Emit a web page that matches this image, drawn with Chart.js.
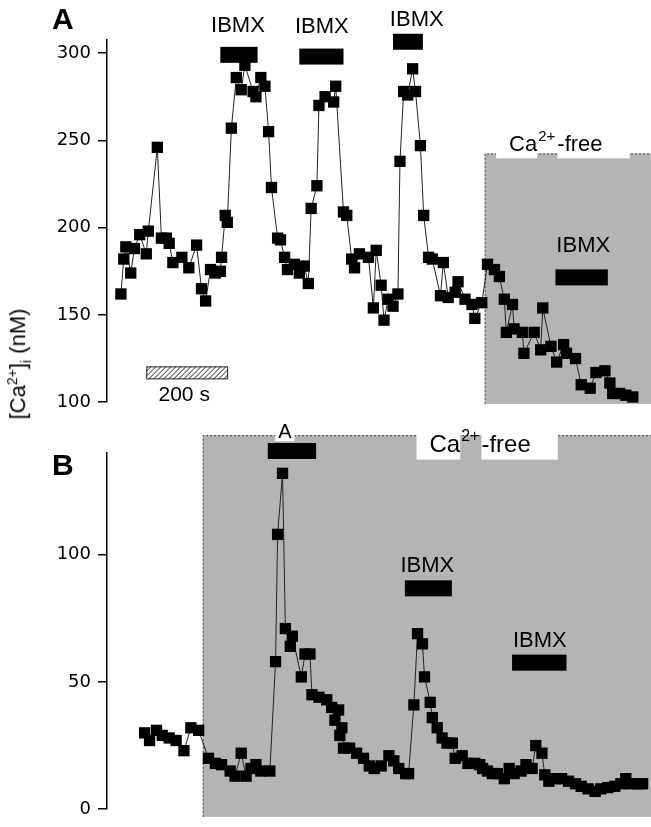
<!DOCTYPE html>
<html>
<head>
<meta charset="utf-8">
<script src="https://cdn.jsdelivr.net/npm/chart.js@4/dist/chart.umd.min.js"></script>
<style>
  body { margin: 0; background: #fff; width: 651px; height: 827px; position: relative; overflow: hidden; font-family: "Liberation Sans", Arial, sans-serif; }
  .box { position: absolute; left: 0; width: 651px; }
  #boxA { top: 0; height: 420px; }
  #boxB { top: 420px; height: 407px; }
  .panel { position: absolute; left: 52px; font: bold 30px "Liberation Sans", Arial, sans-serif; }
  .ylab { position: absolute; left: 19px; top: 364px; transform: translate(-50%, -50%) rotate(-90deg); font-size: 22px; white-space: nowrap; font-family: "Liberation Sans", Arial, sans-serif; }
  .ylab sup, .ylab sub { font-size: 14px; }
</style>
</head>
<body>
<div class="box" id="boxA"><canvas id="chartA" width="651" height="420"></canvas></div>
<div class="box" id="boxB"><canvas id="chartB" width="651" height="407"></canvas></div>
<div class="panel" style="top:2px">A</div>
<div class="panel" style="top:448px">B</div>
<div class="ylab">[Ca<sup>2+</sup>]<sub>i</sub> (nM)</div>
<script>
// panel A: time (s) and [Ca2+]i (nM)
const timeA = [34, 41, 46, 58, 67, 80, 96, 101, 123, 133, 145, 152, 161, 183, 200, 219, 231, 241, 253, 265, 277, 280, 289, 294,
  304, 316, 328, 337, 357, 364, 376, 386, 395, 402, 417, 424, 434, 441, 458, 470, 482, 492, 499, 513, 518, 533, 554, 559,
  578, 586, 598, 605, 617, 639, 651, 658, 670, 677, 687, 699, 711, 716, 725, 735, 747, 754, 766, 774, 786, 795, 815, 822,
  834, 851, 858, 875, 892, 899, 916, 930, 947, 959, 971, 976, 991, 995, 1015, 1019, 1044, 1060, 1065, 1085, 1099, 1116,
  1123, 1145, 1159, 1181, 1195, 1217, 1229, 1236, 1253, 1268, 1285];
const caA = [162, 182, 189, 174, 188, 196, 185, 198, 246, 194, 194, 191, 180, 183, 177, 190, 165, 158, 176, 174, 175, 183, 207, 203,
  257, 286, 279, 293, 278, 275, 286, 281, 255, 223, 194, 193, 183, 176, 179, 174, 178, 168, 211, 224, 270, 275, 272, 281,
  209, 207, 182, 177, 185, 183, 154, 187, 167, 147, 159, 155, 162, 238, 278, 276, 291, 278, 247, 207, 183, 182, 161, 180,
  160, 163, 169, 159, 156, 148, 157, 179, 176, 172, 159, 140, 156, 142, 140, 128, 140, 130, 154, 132, 123, 133,
  128, 125, 110, 108, 117, 118, 111, 105, 105, 104, 103];

// panel B
const timeB = [92, 104, 121, 135, 152, 169, 188, 205, 224, 248, 265, 280, 301, 313, 328, 340, 352, 364, 376, 398, 412, 417, 429,
  436, 448, 453, 475, 484, 496, 501, 518, 537, 549, 557, 566, 569, 574, 578, 593, 610, 627, 641, 653, 670, 689, 701, 713,
  730, 737, 750, 759, 771, 776, 790, 795, 807, 819, 831, 844, 851, 868, 882, 899, 911, 918, 930, 942, 954, 971, 983, 995,
  1012, 1024, 1039, 1048, 1063, 1070, 1080, 1097, 1111, 1128, 1145, 1159, 1176, 1193, 1207, 1224, 1241, 1256, 1268, 1280,
  1297, 1309];
const caB = [30, 27, 31, 29, 28, 27, 23, 32, 31, 20, 18, 17.5, 15, 13, 22, 13, 16, 17.5, 15, 15, 58, 108, 132,
  71, 64, 68, 52, 61, 61, 45, 44, 43, 40, 35, 39, 29, 32, 24, 24, 22, 20, 17, 16, 17, 21, 19, 16,
  14, 14, 41, 69, 65, 52, 42, 36, 32, 28, 26, 26, 20, 21, 18, 18, 17.5, 16, 15, 14, 14, 12, 16, 14,
  15, 17.5, 16, 25, 22, 13.5, 11, 12, 12, 11, 10, 9, 8, 7, 8, 8.5, 9, 10, 12, 10,
  10, 10];

const ticksA = [100, 150, 200, 250, 300];
const ticksB = [0, 50, 100];

// IBMX applications: start, end (s), bar level, label centre (s) and label level (nM)
const ibmxStartA = [277, 470, 699, 1096];
const ibmxEndA = [368, 578, 772, 1224];
const ibmxLevelA = [299, 298, 306.5, 171.5];
const ibmxLabelTA = [320, 525, 757, 1164];
const ibmxTextA = [312, 311.6, 315.6, 186];
const ibmxStartB = [728, 990];
const ibmxEndB = [843, 1123];
const ibmxLevelB = [86.8, 57.6];
const ibmxLabelTB = [783, 1058];
const ibmxTextB = [93.3, 63.9];
const agonistB = [393, 511, 140.8, 145.8];

// Ca2+-free period: start (s), top, bottom (nM); label centre (s), baseline, box bottom
const grayA = [923, 242.5, 99];
const grayB = [234, 147, -3];
const caFreeLabelA = [1097, 243.7, 239.7];
const caFreeLabelB = [912, 140.4, 137.4];
const scaleBar = [96, 296, 116.8];

const FONT = '"Liberation Sans", Arial, sans-serif';

function drawCaFree(ctx, cx, base, boxBottom, size) {
  const sup = Math.round(size * 0.68);
  ctx.font = size + 'px ' + FONT;
  const w1 = ctx.measureText('Ca').width;
  const w3 = ctx.measureText('-free').width;
  ctx.font = sup + 'px ' + FONT;
  const w2 = ctx.measureText('2+').width + 3;
  const x0 = cx - (w1 + w2 + w3) / 2;
  ctx.fillStyle = '#fff';
  ctx.fillRect(x0 - 13, base - 26, w1 + 13, boxBottom - base + 26);
  ctx.fillRect(x0 + w1 + w2, base - 26, w3 + 27, boxBottom - base + 26);
  ctx.fillStyle = '#000';
  ctx.textAlign = 'left';
  ctx.textBaseline = 'alphabetic';
  ctx.font = size + 'px ' + FONT;
  ctx.fillText('Ca', x0, base);
  ctx.fillText('-free', x0 + w1 + w2, base);
  ctx.font = sup + 'px ' + FONT;
  ctx.fillText('2+', x0 + w1 + 1, base - size * 0.45);
}

const decor = {
  id: 'decor',
  beforeDatasetsDraw(chart, args, o) {
    const ctx = chart.ctx, x = chart.scales.x, y = chart.scales.y;
    const gx = x.getPixelForValue(o.gray[0]);
    const gy = y.getPixelForValue(o.gray[1]);
    const gb = Math.min(chart.height, y.getPixelForValue(o.gray[2]));
    ctx.save();
    ctx.fillStyle = '#b4b4b4';
    ctx.fillRect(gx, gy, chart.width - gx, gb - gy);
    ctx.strokeStyle = '#444';
    ctx.lineWidth = 1;
    ctx.setLineDash([2, 2]);
    ctx.beginPath();
    ctx.moveTo(gx + 0.5, gb);
    ctx.lineTo(gx + 0.5, gy + 0.5);
    ctx.lineTo(chart.width, gy + 0.5);
    ctx.stroke();
    ctx.restore();
  },
  afterDatasetsDraw(chart, args, o) {
    const ctx = chart.ctx, x = chart.scales.x, y = chart.scales.y;
    ctx.save();
    drawCaFree(ctx, x.getPixelForValue(o.caFree[0]), y.getPixelForValue(o.caFree[1]), y.getPixelForValue(o.caFree[2]), o.caSize);
    // IBMX bars
    ctx.font = '22px ' + FONT;
    ctx.textAlign = 'center';
    ctx.textBaseline = 'alphabetic';
    for (let i = 0; i < o.start.length; i++) {
      const x1 = x.getPixelForValue(o.start[i]), x2 = x.getPixelForValue(o.end[i]);
      const yc = y.getPixelForValue(o.level[i]);
      ctx.fillStyle = '#000';
      ctx.fillRect(x1, yc - 8, x2 - x1, 16);
      ctx.fillText('IBMX', x.getPixelForValue(o.labelT[i]), y.getPixelForValue(o.text[i]));
    }
    if (o.agonist) {
      const a = o.agonist;
      const x1 = x.getPixelForValue(a[0]), x2 = x.getPixelForValue(a[1]);
      const yc = y.getPixelForValue(a[2]);
      const tb = y.getPixelForValue(a[3]);
      ctx.font = '20px ' + FONT;
      const cx = x1 + 17;
      const tw = ctx.measureText('A').width;
      ctx.fillStyle = '#fff';
      ctx.fillRect(cx - tw / 2 - 3, tb - 18, tw + 6, 21);
      ctx.fillStyle = '#000';
      ctx.fillText('A', cx, tb);
      ctx.fillRect(x1, yc - 8, x2 - x1, 16);
    }
    if (o.scaleBar) {
      const s = o.scaleBar;
      const x1 = x.getPixelForValue(s[0]), x2 = x.getPixelForValue(s[1]);
      const yc = y.getPixelForValue(s[2]);
      const h = 13, y0 = yc - h / 2;
      ctx.save();
      ctx.beginPath();
      ctx.rect(x1, y0, x2 - x1, h);
      ctx.clip();
      ctx.strokeStyle = '#222';
      ctx.lineWidth = 1;
      ctx.beginPath();
      for (let k = -h; k < x2 - x1 + h; k += 5) {
        ctx.moveTo(x1 + k, y0 + h);
        ctx.lineTo(x1 + k + h, y0);
      }
      ctx.stroke();
      ctx.restore();
      ctx.strokeStyle = '#222';
      ctx.lineWidth = 1;
      ctx.strokeRect(x1 + 0.5, y0 + 0.5, x2 - x1 - 1, h - 1);
      ctx.font = '21px ' + FONT;
      ctx.fillStyle = '#000';
      ctx.fillText('200 s', (x1 + x2) / 2 - 3, y0 + h + 22);
    }
    ctx.restore();
  }
};

function makeChart(id, times, values, ymin, ymax, ticks, pad, deco) {
  const pts = times.map((t, i) => ({ x: t, y: values[i] }));
  return new Chart(document.getElementById(id), {
    type: 'scatter',
    data: {
      datasets: [{
        data: pts,
        showLine: true,
        borderColor: '#222',
        borderWidth: 1,
        pointStyle: 'rect',
        pointRadius: 8,
        pointHoverRadius: 8,
        pointBackgroundColor: '#000',
        pointBorderColor: '#000',
        pointBorderWidth: 0,
        clip: false
      }]
    },
    options: {
      responsive: false,
      animation: false,
      events: [],
      layout: { padding: pad },
      plugins: { legend: { display: false }, tooltip: { enabled: false }, decor: deco },
      scales: {
        x: { type: 'linear', display: false, min: 0, max: 1310 },
        y: {
          min: ymin, max: ymax,
          afterFit: s => { s.width = 107; },
          afterBuildTicks: s => { s.ticks = ticks.map(v => ({ value: v })); },
          border: { display: true, color: '#000', width: 1.5 },
          grid: { drawOnChartArea: false, drawTicks: true, tickLength: 9, color: '#000', lineWidth: 1.5 },
          ticks: { color: '#000', padding: 7, font: { family: '"DejaVu Sans", sans-serif', size: 18 } }
        }
      }
    },
    plugins: [decor]
  });
}

makeChart('chartA', timeA, caA, 100, 307.5, ticksA, { top: 40, bottom: 15, left: 0, right: 0 },
  { gray: grayA, caFree: caFreeLabelA, caSize: 22, start: ibmxStartA, end: ibmxEndA, level: ibmxLevelA, labelT: ibmxLabelTA, text: ibmxTextA, scaleBar: scaleBar });
makeChart('chartB', timeB, caB, 0, 140, ticksB, { top: 33, bottom: 8, left: 0, right: 0 },
  { gray: grayB, caFree: caFreeLabelB, caSize: 24, start: ibmxStartB, end: ibmxEndB, level: ibmxLevelB, labelT: ibmxLabelTB, text: ibmxTextB, agonist: agonistB });
</script>
</body>
</html>
